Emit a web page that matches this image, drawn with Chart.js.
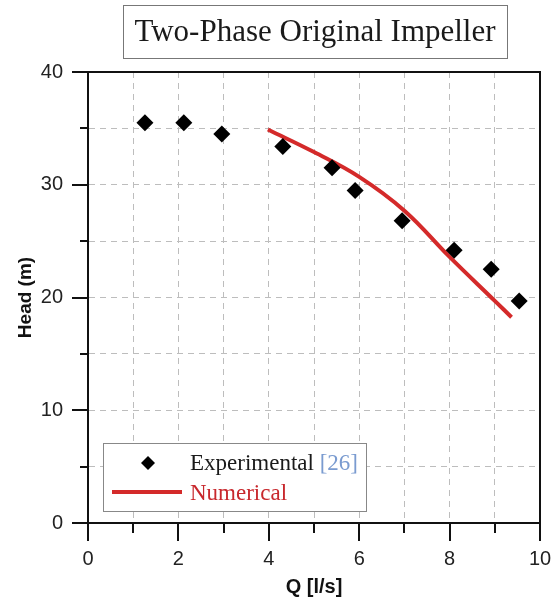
<!DOCTYPE html>
<html>
<head>
<meta charset="utf-8">
<script src="https://cdn.jsdelivr.net/npm/chart.js@4/dist/chart.umd.min.js"></script>
<style>
    html, body { margin: 0; padding: 0; background: #fff; }
    #wrap { width: 555px; height: 601px; }
</style>
</head>
<body>
<div id="wrap"><canvas id="headChart" width="555" height="601"></canvas></div>
<script>
// Data
const expQ = [1.26, 2.12, 2.96, 4.31, 5.40, 5.91, 6.95, 8.10, 8.92, 9.54];
const expHead = [35.5, 35.5, 34.5, 33.4, 31.5, 29.5, 26.8, 24.2, 22.5, 19.7];

const numQ = [3.98, 5.0, 6.0, 7.0, 8.0, 9.0, 9.37];
const numHead = [34.9, 32.9, 30.7, 27.7, 23.6, 19.7, 18.25];

const xTicks = [0, 2, 4, 6, 8, 10];
const yTicks = [0, 10, 20, 30, 40];

const titleText = 'Two-Phase Original Impeller';
const serif = '"Liberation Serif", "Times New Roman", serif';
const sans = '"Liberation Sans", Arial, sans-serif';

// Frame, tick marks, title box and legend
const decorations = {
    id: 'decorations',
    afterDraw(chart) {
        const { ctx, chartArea: a, scales: { x, y } } = chart;
        ctx.save();

        // tick marks (major longer than minor)
        ctx.strokeStyle = '#111';
        ctx.lineWidth = 2;
        for (let v = 0; v <= 10; v++) {
            const px = Math.round(x.getPixelForValue(v));
            const len = xTicks.includes(v) ? 18 : 10;
            ctx.beginPath();
            ctx.moveTo(px, a.bottom);
            ctx.lineTo(px, a.bottom + len);
            ctx.stroke();
        }
        for (let v = 0; v <= 40; v += 5) {
            const py = Math.round(y.getPixelForValue(v));
            const len = yTicks.includes(v) ? 16 : 8;
            ctx.beginPath();
            ctx.moveTo(a.left - len, py);
            ctx.lineTo(a.left, py);
            ctx.stroke();
        }

        // plot frame
        ctx.strokeRect(a.left, a.top, a.right - a.left, a.bottom - a.top);

        // title box
        ctx.lineWidth = 1;
        ctx.strokeStyle = '#777';
        ctx.strokeRect(123.5, 5.5, 384, 53);
        ctx.fillStyle = '#1a1a1a';
        ctx.font = '31px ' + serif;
        ctx.textAlign = 'center';
        ctx.textBaseline = 'alphabetic';
        ctx.fillText(titleText, 315, 41);

        // legend
        ctx.fillStyle = '#fff';
        ctx.fillRect(103.5, 443.5, 263, 68);
        ctx.strokeStyle = '#888';
        ctx.strokeRect(103.5, 443.5, 263, 68);

        ctx.fillStyle = '#000';
        ctx.beginPath();
        ctx.moveTo(148, 456);
        ctx.lineTo(155, 463);
        ctx.lineTo(148, 470);
        ctx.lineTo(141, 463);
        ctx.closePath();
        ctx.fill();

        ctx.strokeStyle = '#d42a2a';
        ctx.lineWidth = 4;
        ctx.beginPath();
        ctx.moveTo(112, 492);
        ctx.lineTo(182, 492);
        ctx.stroke();

        ctx.textAlign = 'left';
        ctx.font = '23px ' + serif;
        ctx.fillStyle = '#1a1a1a';
        ctx.fillText('Experimental', 190, 470);
        const w = ctx.measureText('Experimental ').width;
        ctx.fillStyle = '#7a9bd0';
        ctx.fillText('[26]', 190 + w, 470);
        ctx.fillStyle = '#c8282d';
        ctx.fillText('Numerical', 190, 500);

        ctx.restore();
    }
};

const ctx = document.getElementById('headChart').getContext('2d');
new Chart(ctx, {
    type: 'scatter',
    data: {
        datasets: [
            {
                label: 'Experimental [26]',
                data: expQ.map((q, i) => ({ x: q, y: expHead[i] })),
                pointStyle: 'rectRot',
                pointRadius: 8.5,
                backgroundColor: '#000',
                borderWidth: 0,
                order: 0
            },
            {
                label: 'Numerical',
                type: 'line',
                data: numQ.map((q, i) => ({ x: q, y: numHead[i] })),
                borderColor: '#d42a2a',
                borderWidth: 4,
                pointRadius: 0,
                tension: 0.4,
                fill: false,
                order: 1
            }
        ]
    },
    options: {
        responsive: false,
        animation: false,
        layout: { padding: { left: 0, right: 15, top: 72, bottom: 0 } },
        plugins: {
            legend: { display: false },
            tooltip: { enabled: false }
        },
        scales: {
            x: {
                type: 'linear',
                min: 0,
                max: 10,
                afterFit: (s) => { s.height = 78; s.paddingLeft = 0; s.paddingRight = 0; },
                ticks: {
                    stepSize: 1,
                    autoSkip: false,
                    maxRotation: 0,
                    padding: 24,
                    color: '#222',
                    font: { family: sans, size: 20 },
                    callback: (v) => (xTicks.includes(v) ? v : '')
                },
                grid: { color: '#bdbdbd', lineWidth: 1, drawTicks: false },
                border: { display: true, color: '#111', width: 2, dash: [6, 5] },
                title: {
                    display: true,
                    text: 'Q [l/s]',
                    color: '#111',
                    font: { family: sans, size: 20, weight: 'bold' },
                    padding: { top: 0, bottom: 2 }
                }
            },
            y: {
                type: 'linear',
                min: 0,
                max: 40,
                afterFit: (s) => { s.width = 88; s.paddingTop = 0; s.paddingBottom = 0; },
                ticks: {
                    stepSize: 5,
                    autoSkip: false,
                    padding: 25,
                    color: '#222',
                    font: { family: sans, size: 20 },
                    callback: (v) => (yTicks.includes(v) ? v : '')
                },
                grid: { color: '#bdbdbd', lineWidth: 1, drawTicks: false },
                border: { display: true, color: '#111', width: 2, dash: [6, 5] },
                title: {
                    display: true,
                    text: 'Head (m)',
                    color: '#111',
                    font: { family: sans, size: 19, weight: 'bold' },
                    padding: { top: 14, bottom: 0 }
                }
            }
        }
    },
    plugins: [decorations]
});
</script>
</body>
</html>
